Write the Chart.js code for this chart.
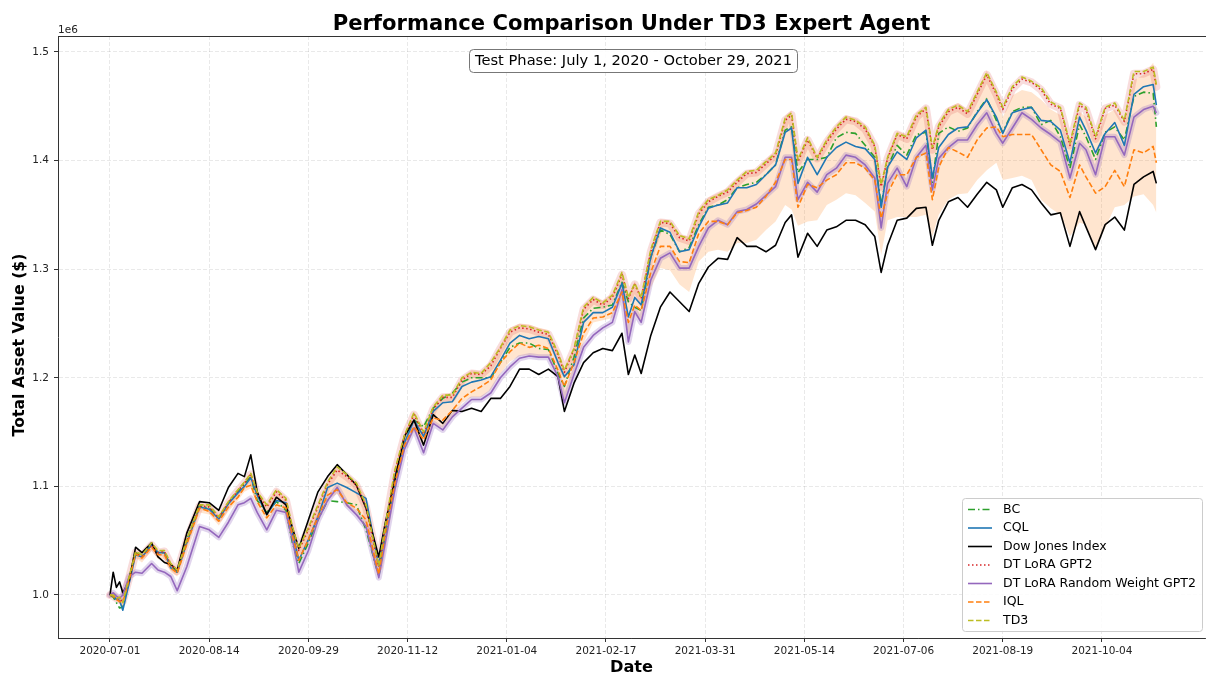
<!DOCTYPE html>
<html>
<head>
<meta charset="utf-8">
<script src="https://cdn.jsdelivr.net/npm/chart.js@4.4.0/dist/chart.umd.min.js"></script>
<style>
  html, body { margin: 0; padding: 0; background: #fff; }
  canvas { display: block; }
</style>
</head>
<body>
<canvas id="chart" width="1206" height="680"></canvas>
<script>
// trading-day index of each sampled point (0 = 2020-07-01)
const days = [0,1,2,3,4,6,8,10,13,15, 17,19,21,24,28,31,34,37,40,42,
  44,46,49,52,55,57,59,62,65,68, 71,74,77,80,84,86,89,92,95,98,
  101,104,107,110,113,116,119,122,125,128, 131,134,137,140,142,145,148,151,154,157,
  160,162,164,166,169,172,175,178,181,184, 187,190,193,196,199,202,205,208,211,213,
  215,218,221,224,227,230,233,236,239,241, 243,246,249,252,255,257,259,262,265,268,
  271,274,277,279,282,285,288,291,294,297, 300,303,305,308,311,314,317,320,323,326,327];

// values in millions of dollars
const bc = [1.000,0.998,0.993,0.988,0.989,1.016,1.039,1.036,1.046,1.039, 1.039,1.027,1.021,1.051,1.082,1.080,1.071,1.085,1.095,1.102,
  1.109,1.087,1.076,1.086,1.078,1.048,1.029,1.048,1.069,1.087, 1.086,1.085,1.083,1.060,1.017,1.053,1.103,1.145,1.161,1.155,
  1.172,1.181,1.186,1.196,1.200,1.200,1.200,1.214,1.228,1.232, 1.232,1.227,1.226,1.204,1.192,1.219,1.255,1.264,1.265,1.267,
  1.288,1.270,1.265,1.262,1.311,1.336,1.332,1.316,1.320,1.341, 1.357,1.359,1.364,1.375,1.378,1.380,1.387,1.396,1.428,1.431,
  1.389,1.401,1.401,1.403,1.421,1.426,1.425,1.414,1.403,1.359, 1.394,1.414,1.405,1.424,1.426,1.380,1.425,1.431,1.427,1.430,
  1.445,1.457,1.437,1.426,1.445,1.449,1.449,1.433,1.437,1.422, 1.393,1.433,1.422,1.401,1.426,1.431,1.419,1.459,1.463,1.462,1.431];

const cql = [1.000,0.999,0.996,0.995,0.986,1.011,1.037,1.035,1.046,1.039, 1.039,1.025,1.021,1.048,1.081,1.079,1.070,1.084,1.094,1.100,
  1.108,1.092,1.074,1.087,1.085,1.057,1.032,1.051,1.072,1.099, 1.103,1.099,1.094,1.089,1.027,1.060,1.109,1.140,1.161,1.146,
  1.169,1.177,1.178,1.192,1.196,1.198,1.201,1.216,1.232,1.239, 1.236,1.238,1.236,1.214,1.201,1.212,1.251,1.260,1.260,1.265,
  1.287,1.256,1.274,1.267,1.311,1.338,1.334,1.316,1.318,1.339, 1.356,1.359,1.361,1.375,1.375,1.378,1.387,1.396,1.426,1.430,
  1.379,1.403,1.387,1.403,1.412,1.417,1.413,1.411,1.401,1.357, 1.394,1.408,1.401,1.421,1.428,1.384,1.412,1.424,1.430,1.431,
  1.444,1.456,1.440,1.425,1.444,1.447,1.449,1.437,1.436,1.428, 1.398,1.440,1.428,1.407,1.425,1.435,1.414,1.461,1.468,1.470,1.451];

const dowJones = [1.000,1.021,1.007,1.012,1.002,1.013,1.044,1.039,1.048,1.035, 1.030,1.028,1.023,1.057,1.086,1.085,1.078,1.099,1.112,1.109,
  1.129,1.095,1.074,1.090,1.083,1.062,1.043,1.069,1.095,1.109, 1.120,1.111,1.101,1.080,1.035,1.066,1.106,1.146,1.161,1.138,
  1.166,1.158,1.170,1.169,1.172,1.169,1.181,1.181,1.192,1.208, 1.208,1.203,1.208,1.201,1.169,1.195,1.214,1.223,1.227,1.225,
  1.241,1.203,1.221,1.204,1.239,1.265,1.279,1.270,1.261,1.287, 1.302,1.310,1.309,1.329,1.321,1.321,1.316,1.322,1.343,1.350,
  1.311,1.333,1.321,1.336,1.339,1.345,1.345,1.341,1.330,1.297, 1.322,1.345,1.347,1.356,1.357,1.322,1.345,1.362,1.366,1.357,
  1.369,1.380,1.373,1.357,1.375,1.378,1.373,1.361,1.350,1.352, 1.321,1.353,1.339,1.318,1.341,1.348,1.336,1.378,1.385,1.390,1.379];

const dtLoraGpt2 = [1.000,0.999,0.997,0.996,0.994,1.016,1.039,1.036,1.046,1.039, 1.040,1.028,1.022,1.050,1.082,1.081,1.071,1.085,1.096,1.103,
  1.111,1.093,1.081,1.095,1.087,1.061,1.041,1.060,1.081,1.102, 1.115,1.109,1.101,1.081,1.026,1.063,1.113,1.146,1.166,1.148,
  1.171,1.182,1.182,1.198,1.204,1.203,1.211,1.227,1.242,1.246, 1.245,1.242,1.240,1.221,1.205,1.226,1.263,1.272,1.267,1.274,
  1.295,1.273,1.286,1.273,1.316,1.343,1.342,1.329,1.326,1.351, 1.362,1.367,1.371,1.380,1.388,1.389,1.397,1.405,1.437,1.442,
  1.399,1.419,1.402,1.417,1.429,1.438,1.436,1.429,1.413,1.376, 1.402,1.424,1.420,1.440,1.448,1.410,1.431,1.445,1.449,1.443,
  1.461,1.479,1.461,1.447,1.466,1.475,1.472,1.465,1.452,1.448, 1.414,1.451,1.447,1.420,1.448,1.451,1.436,1.480,1.480,1.484,1.468];

const dtLoraRandom = [1.000,1.002,0.999,0.997,1.000,1.017,1.021,1.020,1.029,1.023, 1.021,1.017,1.004,1.026,1.063,1.060,1.053,1.067,1.083,1.085,
  1.089,1.076,1.060,1.078,1.076,1.051,1.021,1.041,1.069,1.087, 1.099,1.083,1.074,1.063,1.016,1.048,1.097,1.134,1.154,1.131,
  1.158,1.152,1.164,1.172,1.180,1.180,1.186,1.200,1.210,1.218, 1.220,1.219,1.219,1.201,1.177,1.203,1.228,1.239,1.246,1.251,
  1.281,1.233,1.261,1.251,1.290,1.310,1.315,1.301,1.301,1.321, 1.338,1.345,1.341,1.353,1.355,1.360,1.368,1.376,1.403,1.403,
  1.364,1.380,1.371,1.387,1.393,1.405,1.403,1.396,1.384,1.338, 1.379,1.393,1.376,1.403,1.414,1.373,1.402,1.412,1.419,1.419,
  1.433,1.444,1.425,1.416,1.430,1.444,1.438,1.430,1.424,1.417, 1.384,1.416,1.410,1.387,1.422,1.422,1.405,1.440,1.447,1.450,1.444];

const iql = [1.000,0.999,0.996,0.994,0.993,1.014,1.038,1.034,1.044,1.037, 1.037,1.025,1.020,1.047,1.080,1.077,1.068,1.081,1.090,1.099,
  1.101,1.086,1.071,1.083,1.080,1.055,1.032,1.051,1.072,1.092, 1.097,1.085,1.080,1.069,1.019,1.057,1.103,1.138,1.155,1.143,
  1.163,1.161,1.170,1.181,1.187,1.192,1.198,1.214,1.224,1.232, 1.228,1.230,1.227,1.207,1.192,1.214,1.241,1.255,1.256,1.260,
  1.279,1.251,1.267,1.262,1.297,1.321,1.321,1.307,1.306,1.333, 1.344,1.344,1.341,1.352,1.354,1.357,1.367,1.380,1.401,1.401,
  1.357,1.378,1.375,1.382,1.387,1.398,1.398,1.393,1.382,1.347, 1.370,1.387,1.387,1.403,1.407,1.364,1.394,1.412,1.408,1.403,
  1.419,1.430,1.431,1.422,1.424,1.424,1.424,1.410,1.396,1.390, 1.366,1.396,1.385,1.370,1.376,1.391,1.376,1.410,1.407,1.413,1.398];

const iqlHigh = [1.002,1.002,0.999,0.998,0.995,1.017,1.041,1.039,1.049,1.041, 1.042,1.030,1.025,1.052,1.084,1.084,1.074,1.087,1.098,1.105,
  1.113,1.096,1.084,1.098,1.090,1.064,1.044,1.063,1.084,1.105, 1.119,1.111,1.104,1.091,1.029,1.066,1.116,1.148,1.169,1.152,
  1.175,1.185,1.186,1.201,1.207,1.206,1.216,1.230,1.246,1.250, 1.249,1.246,1.244,1.225,1.209,1.229,1.267,1.275,1.271,1.278,
  1.298,1.276,1.289,1.276,1.320,1.346,1.345,1.332,1.330,1.355, 1.366,1.370,1.375,1.384,1.391,1.392,1.401,1.409,1.441,1.446,
  1.402,1.423,1.405,1.421,1.433,1.442,1.439,1.433,1.416,1.379, 1.405,1.427,1.424,1.444,1.451,1.414,1.435,1.449,1.453,1.447,
  1.465,1.483,1.465,1.440,1.460,1.465,1.463,1.456,1.447,1.442, 1.414,1.445,1.440,1.419,1.442,1.447,1.433,1.474,1.479,1.490,1.476];

const iqlLow = [0.998,0.997,0.994,0.992,0.989,1.010,1.034,1.030,1.041,1.033, 1.033,1.021,1.017,1.043,1.076,1.074,1.064,1.077,1.087,1.095,
  1.098,1.082,1.067,1.079,1.076,1.052,1.029,1.046,1.068,1.088, 1.093,1.081,1.076,1.060,1.014,1.052,1.099,1.134,1.150,1.137,
  1.157,1.154,1.163,1.177,1.182,1.182,1.189,1.204,1.215,1.220, 1.221,1.220,1.220,1.203,1.180,1.205,1.232,1.251,1.253,1.255,
  1.272,1.239,1.258,1.251,1.283,1.301,1.299,1.286,1.279,1.307, 1.316,1.318,1.316,1.324,1.324,1.327,1.336,1.344,1.359,1.355,
  1.340,1.344,1.345,1.359,1.364,1.370,1.368,1.361,1.353,1.313, 1.345,1.348,1.348,1.348,1.350,1.330,1.350,1.364,1.369,1.370,
  1.382,1.391,1.398,1.382,1.384,1.386,1.382,1.364,1.356,1.350, 1.330,1.343,1.341,1.318,1.338,1.357,1.359,1.367,1.369,1.359,1.352];

const td3 = [1.000,1.000,0.997,0.998,0.993,1.017,1.040,1.037,1.048,1.041, 1.041,1.029,1.023,1.051,1.083,1.083,1.072,1.086,1.097,1.104,
  1.112,1.095,1.083,1.097,1.089,1.063,1.043,1.062,1.083,1.104, 1.118,1.111,1.103,1.083,1.027,1.064,1.115,1.147,1.168,1.150,
  1.173,1.184,1.184,1.200,1.205,1.204,1.214,1.228,1.244,1.248, 1.247,1.244,1.242,1.223,1.207,1.227,1.265,1.274,1.269,1.276,
  1.297,1.274,1.287,1.274,1.318,1.344,1.344,1.331,1.328,1.353, 1.364,1.368,1.373,1.382,1.390,1.391,1.399,1.407,1.439,1.444,
  1.401,1.421,1.403,1.419,1.431,1.440,1.437,1.431,1.414,1.378, 1.403,1.425,1.422,1.442,1.449,1.412,1.433,1.447,1.451,1.445,
  1.463,1.481,1.463,1.449,1.468,1.477,1.473,1.467,1.454,1.449, 1.416,1.453,1.449,1.422,1.449,1.453,1.437,1.482,1.482,1.486,1.470];

const tickDays = [0, 31, 62, 93, 124, 155, 186, 217, 248, 279, 310];
const tickLabels = ['2020-07-01', '2020-08-14', '2020-09-29', '2020-11-12', '2021-01-04', '2021-02-17',
  '2021-03-31', '2021-05-14', '2021-07-06', '2021-08-19', '2021-10-04'];
const yTicks = [1.0, 1.1, 1.2, 1.3, 1.4, 1.5];

const FONT = "'DejaVu Sans', 'Liberation Sans', sans-serif";

function pts(values) {
  return values.map((v, i) => ({ x: days[i], y: v }));
}

function series(label, values, color, dash, order) {
  return {
    label: label, data: pts(values), borderColor: color, borderWidth: 1.6,
    borderDash: dash, pointRadius: 0, fill: false, tension: 0, order: order,
    borderJoinStyle: 'round'
  };
}

const legendItems = [
  { label: 'BC', color: '#2ca02c', dash: [7, 3, 1.5, 3] },
  { label: 'CQL', color: '#1f77b4', dash: [] },
  { label: 'Dow Jones Index', color: '#000000', dash: [] },
  { label: 'DT LoRA GPT2', color: '#d62728', dash: [1.5, 2.5] },
  { label: 'DT LoRA Random Weight GPT2', color: '#9467bd', dash: [] },
  { label: 'IQL', color: '#ff7f0e', dash: [5.5, 2.5] },
  { label: 'TD3', color: '#bcbd22', dash: [5.5, 2.5] }
];

function fitFont(ctx, text, weight, width) {
  ctx.font = weight + ' 100px ' + FONT;
  const size = 100 * width / ctx.measureText(text).width;
  return weight + ' ' + size.toFixed(2) + 'px ' + FONT;
}

function roundRect(ctx, x, y, w, h, r) {
  ctx.beginPath();
  ctx.moveTo(x + r, y);
  ctx.lineTo(x + w - r, y);
  ctx.quadraticCurveTo(x + w, y, x + w, y + r);
  ctx.lineTo(x + w, y + h - r);
  ctx.quadraticCurveTo(x + w, y + h, x + w - r, y + h);
  ctx.lineTo(x + r, y + h);
  ctx.quadraticCurveTo(x, y + h, x, y + h - r);
  ctx.lineTo(x, y + r);
  ctx.quadraticCurveTo(x, y, x + r, y);
  ctx.closePath();
}

const decor = {
  id: 'decor',
  afterDraw(chart) {
    const ctx = chart.ctx;
    const a = chart.chartArea;
    ctx.save();
    ctx.setLineDash([]);
    // top spine (the right one falls off the figure)
    ctx.strokeStyle = '#333';
    ctx.lineWidth = 1;
    ctx.beginPath();
    ctx.moveTo(a.left, a.top + 0.5);
    ctx.lineTo(a.right + 1, a.top + 0.5);
    ctx.stroke();

    const cx = (a.left + a.right) / 2;
    ctx.fillStyle = '#000';
    // title
    ctx.font = fitFont(ctx, 'Performance Comparison Under TD3 Expert Agent', 'bold', 598);
    ctx.textAlign = 'center';
    ctx.textBaseline = 'alphabetic';
    ctx.fillText('Performance Comparison Under TD3 Expert Agent', cx, 30);

    // offset text
    ctx.font = '10.5px ' + FONT;
    ctx.textAlign = 'left';
    ctx.fillStyle = '#222';
    ctx.fillText('1e6', a.left, 32.5);

    // axis labels
    ctx.fillStyle = '#000';
    ctx.font = fitFont(ctx, 'Date', 'bold', 43);
    ctx.textAlign = 'center';
    ctx.textBaseline = 'middle';
    ctx.fillText('Date', cx, 668);
    ctx.save();
    ctx.translate(20, 345);
    ctx.rotate(-Math.PI / 2);
    ctx.font = fitFont(ctx, 'Total Asset Value ($)', 'bold', 183);
    ctx.fillText('Total Asset Value ($)', 0, 0);
    ctx.restore();

    // test phase box
    const phase = 'Test Phase: July 1, 2020 - October 29, 2021';
    roundRect(ctx, 469.5, 49.5, 328, 23, 4);
    ctx.fillStyle = 'rgba(255,255,255,0.9)';
    ctx.fill();
    ctx.strokeStyle = '#777';
    ctx.stroke();
    ctx.fillStyle = '#000';
    ctx.font = fitFont(ctx, phase, 'normal', 317);
    ctx.fillText(phase, 633.5, 61.5);

    // legend
    roundRect(ctx, 962.5, 498.5, 240, 133, 3);
    ctx.fillStyle = 'rgba(255,255,255,0.85)';
    ctx.fill();
    ctx.strokeStyle = '#cccccc';
    ctx.stroke();
    ctx.font = fitFont(ctx, 'DT LoRA Random Weight GPT2', 'normal', 193);
    ctx.textAlign = 'left';
    legendItems.forEach((item, k) => {
      const y = 509.5 + k * 18.5;
      ctx.strokeStyle = item.color;
      ctx.lineWidth = 1.6;
      ctx.setLineDash(item.dash);
      ctx.beginPath();
      ctx.moveTo(968, y);
      ctx.lineTo(992, y);
      ctx.stroke();
      ctx.setLineDash([]);
      ctx.fillStyle = '#000';
      ctx.fillText(item.label, 1003, y);
    });
    ctx.restore();
  }
};

const gridOpts = {
  color: 'rgba(0,0,0,0.11)', lineWidth: 0.8,
  tickColor: '#333', tickLength: 4, tickWidth: 1, tickBorderDash: []
};

new Chart(document.getElementById('chart'), {
  type: 'line',
  data: {
    datasets: [
      series('BC', bc, '#2ca02c', [7, 3, 1.5, 3], 7),
      series('CQL', cql, '#1f77b4', [], 6),
      series('Dow Jones Index', dowJones, '#000000', [], 5),
      series('DT LoRA GPT2', dtLoraGpt2, '#d62728', [1.5, 2.5], 4),
      series('DT LoRA Random Weight GPT2', dtLoraRandom, '#9467bd', [], 3),
      series('IQL', iql, '#ff7f0e', [5.5, 2.5], 2),
      series('TD3', td3, '#bcbd22', [5.5, 2.5], 1),
      { label: 'gpt2 band', data: pts(dtLoraGpt2), borderColor: 'rgba(214,39,40,0.16)', borderWidth: 8,
        borderJoinStyle: 'round', borderCapStyle: 'round', pointRadius: 0, fill: false, order: 15 },
      { label: 'random band', data: pts(dtLoraRandom), borderColor: 'rgba(148,103,189,0.28)', borderWidth: 6,
        borderJoinStyle: 'round', borderCapStyle: 'round', pointRadius: 0, fill: false, order: 15 },
      { label: 'iql low', data: pts(iqlLow), borderColor: 'rgba(0,0,0,0)', borderWidth: 1,
        pointRadius: 0, fill: false, order: 20 },
      { label: 'iql high', data: pts(iqlHigh), borderColor: 'rgba(0,0,0,0)', borderWidth: 1,
        pointRadius: 0, fill: '-1', backgroundColor: 'rgba(255,127,14,0.2)', order: 20 }
    ]
  },
  options: {
    responsive: false,
    animation: false,
    devicePixelRatio: 1,
    layout: { padding: { top: 36, right: 1, left: 0, bottom: 0 } },
    plugins: { legend: { display: false }, tooltip: { enabled: false }, title: { display: false } },
    scales: {
      x: {
        type: 'linear', min: -16.25, max: 342.2,
        afterBuildTicks: s => { s.ticks = tickDays.map(v => ({ value: v })); },
        afterFit: s => { s.height = 42; },
        ticks: {
          callback: v => tickLabels[tickDays.indexOf(v)],
          font: { family: FONT, size: 10.5 }, color: '#222', padding: 3,
          maxRotation: 0, autoSkip: false
        },
        grid: gridOpts,
        border: { color: '#333', width: 1, dash: [4, 2] }
      },
      y: {
        type: 'linear', min: 0.9604, max: 1.5147,
        afterBuildTicks: s => { s.ticks = yTicks.map(v => ({ value: v })); },
        afterFit: s => { s.width = 58; },
        ticks: {
          callback: v => v.toFixed(1),
          font: { family: FONT, size: 10.5 }, color: '#222', padding: 5
        },
        grid: gridOpts,
        border: { color: '#333', width: 1, dash: [4, 2] }
      }
    }
  },
  plugins: [decor]
});
</script>
</body>
</html>
